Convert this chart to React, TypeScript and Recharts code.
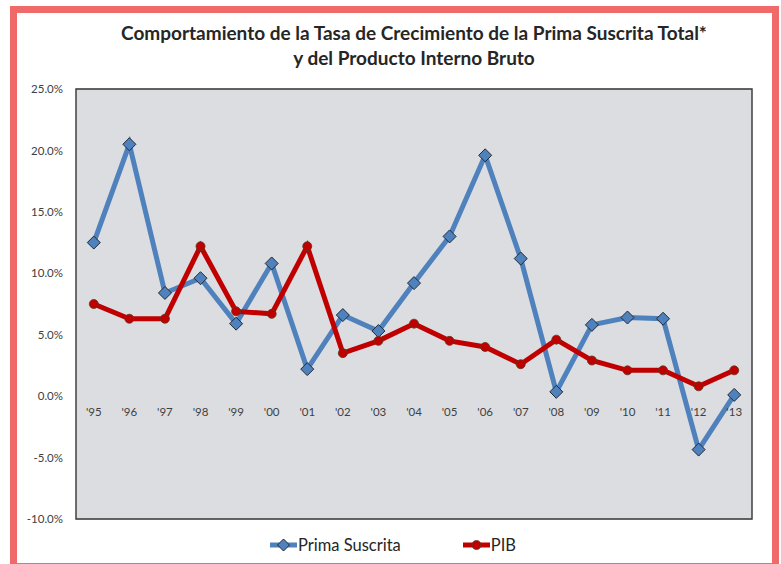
import { LineChart, Line, XAxis, YAxis, CartesianGrid, ReferenceArea } from 'recharts'

const years = ["'95", "'96", "'97", "'98", "'99", "'00", "'01", "'02", "'03", "'04", "'05", "'06", "'07", "'08", "'09", "'10", "'11", "'12", "'13"]
const primaSuscrita = [12.5, 20.5, 8.4, 9.6, 5.9, 10.8, 2.2, 6.6, 5.3, 9.2, 13.0, 19.6, 11.2, 0.35, 5.8, 6.4, 6.3, -4.35, 0.1]
const pib = [7.5, 6.3, 6.3, 12.2, 6.9, 6.7, 12.2, 3.5, 4.5, 5.9, 4.5, 4.0, 2.6, 4.6, 2.9, 2.1, 2.1, 0.8, 2.1]
const yTicks = [-10, -5, 0, 5, 10, 15, 20, 25]

const Y_MIN = -10
const Y_MAX = 25
const CHART_W = 781
const CHART_H = 564
const X_AXIS_H = 20
const MARGIN = { top: 89, right: 29, bottom: 45 - X_AXIS_H, left: 0 }
const PLOT_H = CHART_H - MARGIN.top - MARGIN.bottom - X_AXIS_H

const BLUE = '#4f81bd'
const RED = '#c00000'
const FONT = 'Lato, "Open Sans", sans-serif'

const data = years.map((year, i) => ({ year, prima: primaSuscrita[i], pib: pib[i] }))

// Excel draws the category labels along the 0% line, not at the bottom of the plot
const ZeroTick = (props: any) => {
  const { x, payload } = props
  const zeroY = MARGIN.top + ((Y_MAX - 0) / (Y_MAX - Y_MIN)) * PLOT_H
  return (
    <text x={x} y={zeroY + 20} textAnchor="middle" fontSize={11.5} fill="#404040" fontFamily={FONT}>
      {payload.value}
    </text>
  )
}

const Diamond = (props: any) => {
  const { cx, cy } = props
  if (cx == null || cy == null) return null
  const s = 6.5
  return (
    <polygon
      points={`${cx},${cy - s} ${cx + s},${cy} ${cx},${cy + s} ${cx - s},${cy}`}
      fill={BLUE}
      stroke="#1f2a38"
      strokeWidth={1}
    />
  )
}

const RedDot = (props: any) => {
  const { cx, cy } = props
  if (cx == null || cy == null) return null
  return <circle cx={cx} cy={cy} r={4.5} fill={RED} stroke="#5c3a1e" strokeWidth={0.8} />
}

const LegendItem = ({ label, marker, color }: { label: string; marker: 'diamond' | 'circle'; color: string }) => (
  <div style={{ display: 'flex', alignItems: 'center' }}>
    <svg width={27} height={14}>
      <line x1={0} y1={7} x2={27} y2={7} stroke={color} strokeWidth={5} />
      {marker === 'diamond' ? (
        <polygon points="13.5,1 19.5,7 13.5,13 7.5,7" fill={BLUE} stroke="#1f2a38" strokeWidth={1} />
      ) : (
        <circle cx={13.5} cy={7} r={4.5} fill={RED} stroke="#5c3a1e" strokeWidth={0.8} />
      )}
    </svg>
    <span style={{ fontSize: 16.5, color: '#262626', marginLeft: 1 }}>{label}</span>
  </div>
)

export default function App() {
  return (
    <div style={{ position: 'absolute', left: 0, top: 0, width: CHART_W, height: CHART_H, background: '#fff', overflow: 'hidden', fontFamily: FONT }}>
      <div
        style={{
          position: 'absolute',
          left: 10,
          top: 6,
          width: 755,
          height: 550,
          border: '7px solid #f06a6a',
        }}
      />
      <div
        style={{
          position: 'absolute',
          left: 0,
          top: 20,
          width: 828,
          textAlign: 'center',
          fontSize: 19,
          fontWeight: 700,
          lineHeight: '25px',
          color: '#262626',
        }}
      >
        Comportamiento de la Tasa de Crecimiento de la Prima Suscrita Total*
        <br />y del Producto Interno Bruto
      </div>
      <div style={{ position: 'absolute', left: 0, top: 0 }}>
        <LineChart width={CHART_W} height={CHART_H} data={data} margin={MARGIN}>
          <CartesianGrid horizontal vertical={false} stroke="#9a9a9a" fill="#dcdde0" fillOpacity={1} />
          <XAxis
            xAxisId="main"
            dataKey="year"
            scale="band"
            height={X_AXIS_H}
            tickLine={false}
            axisLine={false}
            tick={<ZeroTick />}
            interval={0}
          />
          <YAxis
            yAxisId="main"
            domain={[Y_MIN, Y_MAX]}
            ticks={yTicks}
            width={76}
            tickSize={0}
            tickMargin={13}
            tickLine={false}
            axisLine={false}
            tick={{ fontSize: 11.5, fill: '#404040', fontFamily: FONT }}
            tickFormatter={(v: number) => v.toFixed(1) + '%'}
          />
          <ReferenceArea
            xAxisId="main"
            yAxisId="main"
            y1={Y_MIN}
            y2={Y_MAX}
            fill="none"
            stroke="#404040"
            strokeWidth={1.5}
          />
          <Line
            xAxisId="main"
            yAxisId="main"
            dataKey="prima"
            name="Prima Suscrita"
            stroke={BLUE}
            strokeWidth={5}
            dot={<Diamond />}
            isAnimationActive={false}
          />
          <Line
            xAxisId="main"
            yAxisId="main"
            dataKey="pib"
            name="PIB"
            stroke={RED}
            strokeWidth={5}
            dot={<RedDot />}
            isAnimationActive={false}
          />
        </LineChart>
      </div>
      <div style={{ position: 'absolute', left: 270, top: 535, display: 'flex', gap: 62 }}>
        <LegendItem label="Prima Suscrita" marker="diamond" color={BLUE} />
        <LegendItem label="PIB" marker="circle" color={RED} />
      </div>
    </div>
  )
}
